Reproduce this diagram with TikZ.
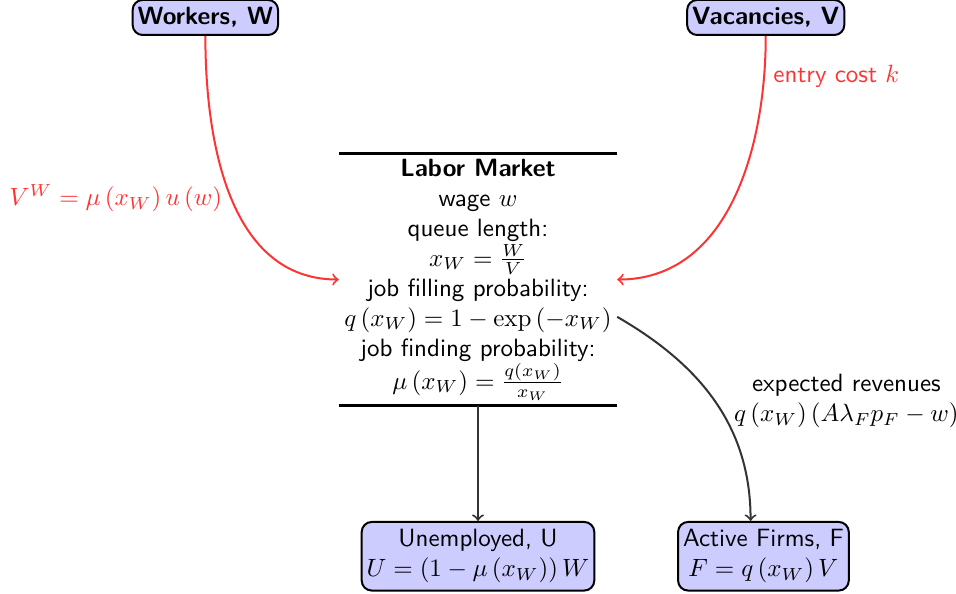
\documentclass[tikz,border=0pt]{standalone}
\usepackage{amsmath}
\usetikzlibrary{positioning}

\begin{document}
\begin{tikzpicture}[
  font=\sffamily,
  agent/.style={draw, thick, rounded corners, fill=blue!20, align=center, inner xsep=2pt, inner ysep=3pt},
  market/.style={align=center, inner xsep=2pt, inner ysep=2pt},
  flow/.style={->, thick, black!80},
  cost/.style={->, thick, red!80},
  node distance=1.62cm and 1.15cm]
\useasboundingbox (-6.72,-4.42) rectangle (6.72,3.93);
% the market in the middle
\node[market] (lm) at (0,0) {\textbf{Labor Market}\\ wage $w$\\ queue length:\\ $x_W=\frac{W}{V}$\\
  job filling probability:\\ $q\left(x_W\right)=1-\exp\left(-x_W\right)$\\
  job finding probability:\\ $\mu\left(x_W\right)=\frac{q\left(x_W\right)}{x_W}$};
\draw[very thick] (lm.north west) -- (lm.north east);
\draw[very thick] (lm.south west) -- (lm.south east);
% both sides of the market
\node[agent, font=\sffamily\bfseries, above left=1.65cm and 0.84cm of lm] (wk) {Workers, W};
\node[agent, font=\sffamily\bfseries, above right=1.65cm and 0.97cm of lm] (vc) {Vacancies, V};
% outcomes
\node[agent, below=of lm] (ue) {Unemployed, U\\ $U=\left(1-\mu\left(x_W\right)\right)W$};
\node[agent, right=of ue] (af) {Active Firms, F\\ $F=q\left(x_W\right)V$};
\draw[cost] (wk.south) to[out=-90, in=180] node[left, pos=0.5]{$V^W=\mu\left(x_W\right)u\left(w\right)$} (lm.west);
\draw[cost] (vc.south) to[out=-90, in=0] node[right, pos=0.12]{entry cost $k$} (lm.east);
\draw[flow] (lm.south) -- (ue.north);
\draw[flow] (lm.-15) to[out=-30, in=90] node[right=4pt, align=center, text=black, pos=0.5]{expected revenues\\ $q\left(x_W\right)\left(A\lambda_F p_F-w\right)$} (af.110);
\end{tikzpicture}
\end{document}
